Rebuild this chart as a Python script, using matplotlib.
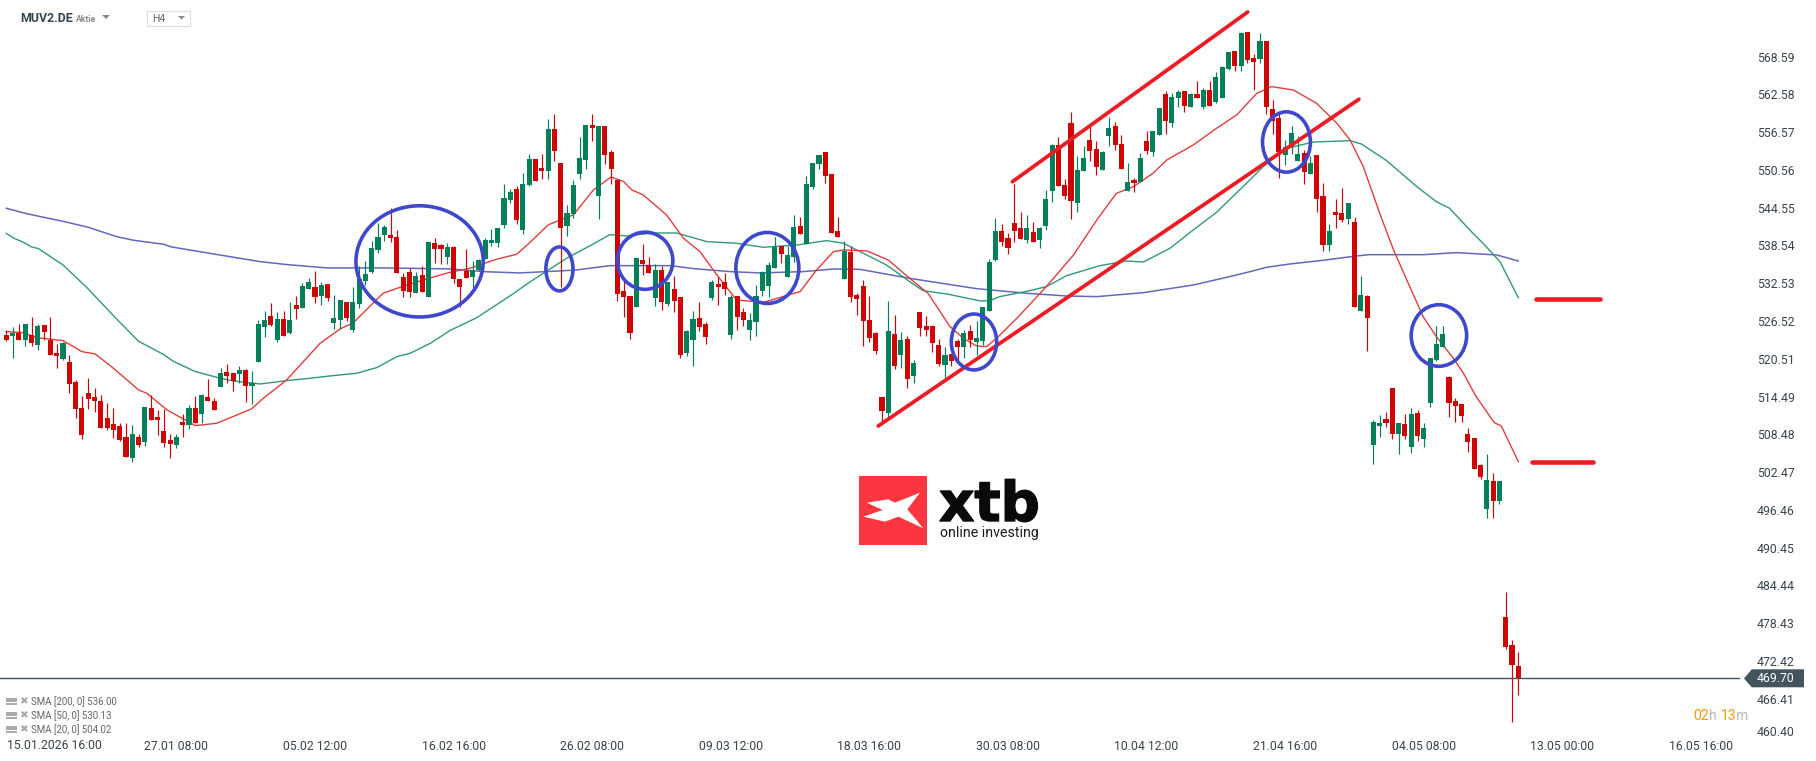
import matplotlib
matplotlib.use('Agg')
import matplotlib.pyplot as plt
import matplotlib.patheffects as pe
from matplotlib.patches import Ellipse, Polygon, Rectangle

plt.rcParams['font.family'] = ['Roboto', 'DejaVu Sans']

# H4 candles
opens = [524.29, 524.13, 524.61, 523.50, 524.24, 522.70, 525.88, 523.50, 521.43, 520.47,
         519.99, 516.81, 512.67, 515.06, 514.42, 513.79, 511.08, 510.13, 509.81, 508.06,
         504.72, 508.06, 507.26, 512.67, 511.24, 509.01, 507.58, 506.79, 510.45, 509.97,
         512.67, 511.72, 514.42, 513.79, 516.02, 518.40, 518.24, 518.08, 518.72, 516.17,
         519.99, 525.56, 527.32, 523.50, 526.84, 524.61, 529.07, 528.59, 531.61, 531.93,
         530.50, 532.41, 526.20, 526.68, 529.54, 525.09, 529.23, 532.89, 534.32, 537.82,
         540.21, 540.21, 539.89, 533.52, 534.32, 530.98, 533.84, 530.34, 538.93, 538.62,
         536.71,
         538.29, 533.20, 534.48, 533.52, 534.63, 536.39, 538.93, 538.93, 541.80, 545.77,
         547.53, 541.00, 548.16, 552.30, 550.87, 550.39, 557.07, 551.66, 541.64, 543.55,
         549.91, 552.14, 557.71, 546.41, 557.55, 553.41, 548.96, 531.29, 530.50, 528.75,
         536.23, 535.43, 530.18, 534.63, 529.22, 531.61, 530.34, 521.43, 523.49, 526.99,
         526.04, 530.18, 532.41, 532.72, 524.29, 530.50, 527.95, 525.09, 526.36, 531.29,
         532.09, 534.95, 538.45, 533.52, 536.70, 541.64, 538.77, 547.84, 551.50, 553.41,
         549.91, 540.84, 533.20, 537.50, 530.65, 532.09, 526.68, 524.61, 514.42, 511.87,
         524.45, 521.10, 523.65, 517.76, 527.95, 525.72, 525.72, 522.70, 519.51, 521.26,
         523.33, 522.38, 524.92, 523.17, 523.33, 528.11, 536.22, 540.84, 539.72, 542.11,
         541.31, 539.40, 540.68, 539.40, 541.63, 547.20, 554.52, 548.16, 558.02, 545.29,
         550.39, 555.32, 553.89, 550.54, 555.96, 557.55, 554.68, 547.20, 548.95, 548.63,
         555.16, 553.41, 556.11, 562.64, 558.02, 562.00, 563.12, 560.57, 562.64, 560.57,
         563.28, 561.37, 562.00, 566.62, 569.48, 567.10, 572.51, 568.37, 568.21, 571.07,
         560.25, 558.82, 552.93, 554.20, 551.98, 553.25, 549.91, 552.93, 546.41, 538.61,
         543.86, 543.70, 542.75, 542.27, 528.10, 530.49, 506.78, 509.80, 510.92, 515.85,
         508.53, 510.12, 506.46, 511.87, 507.73, 513.46, 520.31, 522.38, 517.60, 513.78,
         513.30, 508.53, 507.89, 503.60, 496.59, 501.05, 497.87, 479.41, 474.95, 471.61]
closes = [523.50, 524.61, 523.50, 526.04, 523.02, 525.72, 524.77, 521.11, 520.95, 523.02,
          516.49, 512.51, 508.38, 514.11, 513.79, 509.49, 509.49, 509.17, 507.58, 504.88,
          508.54, 506.79, 512.83, 510.76, 510.76, 507.10, 506.94, 508.06, 509.97, 512.67,
          510.29, 514.74, 513.79, 512.36, 518.24, 517.77, 516.97, 518.72, 516.17, 516.65,
          526.04, 526.68, 525.88, 526.84, 524.13, 526.68, 528.43, 532.09, 532.73, 530.34,
          532.25, 530.18, 527.00, 529.86, 527.00, 529.54, 533.20, 534.00, 538.14, 539.89,
          541.48, 539.73, 534.16, 531.29, 531.14, 533.68, 531.14, 539.09, 537.98, 537.98,
          538.30,
          533.20, 531.93, 533.36, 534.63, 536.23, 539.41, 539.41, 541.32, 546.09, 547.05,
          542.59, 548.32, 552.30, 548.80, 550.39, 557.07, 553.57, 541.32, 543.71, 548.16,
          552.46, 557.71, 557.23, 557.55, 552.94, 550.71, 530.81, 530.34, 524.61, 536.54,
          535.59, 534.16, 534.63, 529.54, 532.72, 529.70, 521.11, 524.93, 526.84, 525.56,
          523.97, 532.72, 531.93, 531.61, 530.34, 527.15, 526.68, 526.68, 530.50, 534.32,
          535.43, 538.29, 537.18, 537.02, 541.48, 540.36, 548.32, 551.66, 552.94, 549.59,
          540.52, 539.89, 537.66, 530.34, 530.02, 526.52, 523.81, 521.74, 512.19, 524.92,
          519.35, 523.49, 517.28, 519.83, 525.40, 525.08, 523.01, 519.67, 521.10, 520.15,
          522.38, 524.61, 523.49, 523.81, 528.74, 535.90, 540.84, 539.09, 538.13, 540.84,
          539.56, 541.31, 539.09, 541.31, 545.93, 554.52, 548.00, 546.41, 545.61, 550.54,
          552.45, 553.57, 551.02, 553.41, 557.23, 554.52, 550.70, 548.63, 548.48, 552.45,
          553.57, 556.75, 560.41, 558.34, 562.16, 562.96, 560.73, 562.64, 562.00, 563.28,
          560.73, 565.35, 566.94, 569.32, 567.10, 572.35, 568.05, 567.73, 571.07, 560.57,
          558.34, 553.41, 554.20, 556.43, 553.09, 550.23, 551.66, 545.93, 538.61, 540.84,
          543.38, 542.59, 545.29, 528.74, 530.65, 526.99, 510.44, 510.28, 510.28, 508.53,
          510.28, 508.21, 511.71, 508.21, 509.48, 520.63, 522.85, 524.44, 513.46, 512.99,
          511.39, 507.26, 502.96, 501.69, 501.21, 497.87, 501.05, 474.63, 471.77, 469.70]
highs = [525.09, 525.56, 526.04, 526.04, 527.16, 526.04, 525.88, 527.16, 522.86, 523.18,
         521.11, 517.13, 514.58, 517.45, 515.86, 514.74, 513.47, 512.67, 510.29, 510.29,
         509.97, 508.54, 512.83, 514.74, 512.36, 512.51, 508.54, 508.54, 511.72, 513.15,
         514.58, 514.90, 517.29, 514.26, 519.04, 519.68, 518.24, 519.36, 518.88, 518.56,
         526.68, 528.11, 529.38, 527.95, 528.11, 529.54, 530.50, 532.57, 533.36, 534.48,
         532.73, 532.41, 530.66, 529.86, 529.54, 531.93, 535.27, 536.07, 539.25, 542.12,
         541.80, 544.50, 541.00, 534.16, 534.95, 534.32, 535.27, 539.09, 539.73, 538.77,
         538.93,
         538.45, 533.20, 537.98, 536.07, 536.39, 539.73, 541.16, 541.32, 548.32, 547.53,
         548.00, 550.07, 553.10, 552.30, 553.10, 558.67, 559.46, 551.66, 544.98, 548.96,
         555.80, 557.71, 559.46, 557.55, 557.55, 553.73, 548.96, 532.88, 530.50, 536.54,
         538.77, 536.70, 535.59, 535.27, 532.72, 533.68, 530.34, 525.09, 528.11, 529.54,
         526.36, 533.04, 533.52, 534.16, 530.66, 530.50, 528.59, 527.79, 532.25, 534.48,
         535.91, 539.89, 538.45, 538.45, 543.39, 543.07, 549.59, 551.66, 552.94, 553.41,
         549.91, 543.07, 539.25, 538.45, 530.92, 533.04, 530.50, 524.77, 514.42, 529.70,
         527.47, 524.76, 524.13, 520.31, 527.95, 527.31, 525.88, 523.65, 522.38, 521.26,
         523.65, 525.08, 525.88, 526.51, 528.74, 536.38, 542.90, 541.95, 540.52, 548.32,
         543.86, 543.38, 542.27, 541.47, 547.36, 554.68, 555.80, 549.11, 559.78, 552.77,
         554.36, 557.71, 555.16, 553.57, 558.98, 558.18, 556.11, 551.66, 549.27, 553.25,
         556.75, 556.75, 560.41, 563.12, 562.80, 563.28, 563.12, 562.80, 564.71, 563.59,
         564.71, 566.14, 567.10, 569.32, 569.48, 572.51, 572.51, 569.01, 572.35, 571.07,
         561.68, 559.46, 555.32, 557.55, 555.96, 553.73, 552.77, 552.93, 548.47, 541.95,
         545.93, 547.68, 545.29, 543.06, 533.67, 530.65, 510.76, 511.55, 512.03, 515.85,
         510.28, 511.71, 512.67, 512.35, 510.28, 520.63, 525.72, 525.72, 517.76, 514.26,
         513.30, 509.48, 507.89, 503.76, 505.35, 502.32, 501.05, 483.39, 475.74, 473.84]
lows = [523.34, 520.68, 523.50, 522.54, 522.54, 521.90, 523.50, 521.11, 519.04, 520.31,
        515.06, 511.08, 507.74, 512.51, 512.04, 509.49, 509.17, 507.90, 507.42, 504.88,
        504.08, 506.47, 506.63, 510.76, 508.38, 506.47, 504.72, 506.31, 508.06, 509.33,
        510.29, 510.29, 513.79, 512.36, 516.02, 516.65, 515.38, 516.65, 513.63, 513.31,
        519.99, 523.97, 525.72, 523.18, 524.13, 524.45, 526.84, 528.59, 531.61, 529.38,
        529.07, 529.70, 525.25, 525.25, 526.52, 524.77, 528.59, 532.25, 534.16, 537.34,
        539.25, 539.09, 534.16, 530.34, 530.34, 530.98, 531.14, 530.34, 535.75, 535.59,
        535.59,
        532.57, 528.75, 533.36, 531.77, 534.48, 536.39, 538.45, 538.29, 541.32, 545.30,
        541.96, 540.36, 548.00, 548.80, 549.12, 549.12, 551.98, 531.93, 540.05, 542.91,
        549.12, 550.71, 555.16, 542.75, 551.50, 548.32, 529.70, 527.15, 523.65, 528.75,
        533.84, 534.16, 528.90, 528.27, 528.90, 527.95, 520.63, 520.95, 519.36, 524.93,
        522.86, 529.86, 529.06, 530.66, 523.65, 525.09, 525.72, 523.49, 524.13, 530.50,
        530.34, 534.95, 535.75, 533.52, 535.91, 540.36, 538.77, 547.53, 550.71, 548.48,
        540.52, 539.89, 533.20, 529.54, 527.47, 522.54, 523.18, 521.27, 510.12, 511.08,
        518.88, 519.03, 515.85, 516.65, 524.13, 524.13, 521.58, 519.35, 517.12, 519.35,
        519.99, 520.63, 522.38, 521.10, 522.70, 528.11, 536.06, 538.45, 537.18, 539.09,
        539.56, 538.93, 539.09, 538.13, 541.00, 545.45, 548.00, 545.93, 542.75, 543.86,
        550.39, 551.98, 549.75, 550.54, 554.36, 553.73, 550.70, 547.20, 547.04, 548.63,
        553.09, 552.77, 556.11, 556.27, 557.39, 560.57, 559.78, 560.57, 562.00, 560.25,
        560.73, 561.21, 562.00, 566.46, 566.30, 566.30, 567.57, 563.28, 567.57, 559.46,
        556.27, 549.27, 551.34, 553.09, 551.98, 548.32, 549.91, 543.86, 537.65, 537.65,
        541.31, 542.27, 541.95, 528.74, 528.10, 521.74, 503.76, 508.05, 509.64, 507.73,
        505.35, 507.73, 505.51, 507.42, 506.46, 512.83, 520.15, 522.38, 511.24, 510.44,
        510.44, 505.67, 502.96, 501.37, 495.16, 495.16, 497.39, 474.31, 462.70, 466.99]

# moving averages, readings at candle positions
sma200_x = [0, 3, 5.9, 9, 13, 17.5, 20.2, 25, 26.2, 32.9, 40.3, 44.5, 50.9, 59.8, 70.4,
            75.7, 81.5, 87.9, 90.5, 95.8, 105.4, 109.1, 114.9, 119.6, 126.5, 131.3, 135.5,
            143.4, 154, 162, 168.3, 173.1, 180.5, 188.4, 193.7, 197.4, 200, 203.7, 209,
            214.3, 216.4, 224.9, 230.2, 236.6, 240]
sma200_y = [544.45, 543.65, 543.02, 542.38, 541.43, 539.94, 539.36, 538.72, 538.30, 537.18,
            535.96, 535.49, 534.96, 534.96, 534.80, 534.37, 534.16, 534.48, 534.63, 535.32,
            535.32, 534.85, 534.37, 534.16, 534.37, 534.79, 534.73, 533.30, 531.66, 530.92,
            530.49, 530.39, 531.02, 532.24, 533.46, 534.36, 535.05, 535.58, 536.17, 536.86,
            537.07, 537.07, 537.39, 537.02, 536.06]
sma50_x = [0, 1.1, 2.7, 4, 5.1, 9, 12.8, 17.5, 21, 24.9, 26.5, 30, 33.4, 36, 40.3, 44.5, 47.7,
           51.9, 55.6, 58.8, 62, 64.1, 67.3, 70.4, 74.7, 80.5, 83.1, 89, 92.7, 95.8, 98.5,
           102.7, 106.4, 111.2, 115.9, 120.2, 125.5, 130.2, 132.9, 137.1, 139.7, 143.4, 145.5,
           149.3, 154.6, 156.1, 157.7, 162, 165.1, 168.3, 173.6, 177.8, 180.5, 184.7, 188.4,
           192.1, 196.3, 199.5, 203.2, 207.5, 213.3, 215.1, 219.1, 223.9, 227, 229.1, 232.3,
           234.4, 237.1, 240]
sma50_y = [540.47, 539.73, 539.04, 538.30, 538.03, 535.43, 531.82, 526.84, 523.28, 521.21,
           520.10, 518.46, 517.55, 516.97, 516.49, 517.02, 517.34, 517.82, 518.19, 519.09,
           520.84, 521.37, 522.96, 524.98, 527.05, 530.87, 532.72, 536.54, 538.51, 540.26,
           540.05, 540.52, 540.52, 539.14, 538.88, 538.24, 538.61, 539.30, 538.88, 536.75,
           535.43, 532.78, 531.34, 530.81, 529.70, 529.75, 530.39, 531.24, 531.98, 533.73,
           535.32, 536.06, 535.90, 538.08, 541.00, 543.81, 547.89, 551.07, 553.99, 555.00,
           555.21, 554.68, 552.03, 547.89, 545.50, 544.44, 540.99, 538.87, 535.95, 530.22]
sma20_x = [0, 2.7, 4.8, 9, 12, 14.1, 17, 21, 22.3, 25.5, 30, 33.4, 38.9, 40.8, 44.5, 49.8, 53,
           55.1, 59.8, 62.5, 66.7, 70.4, 73.6, 77.8, 81, 83.1, 86, 87.9, 90, 93.2, 96, 98, 99.3,
           101.1, 104.8, 107.5, 110.1, 112.8, 115.9, 120.2, 126, 128.6, 131.3, 132.9, 136.6,
           140, 143.4, 146.3, 149.8, 151.9, 154, 155.6, 157.2, 160.4, 164.1, 166, 169.4, 173.1,
           176.2, 178.9, 182, 184.2, 188.4, 192.1, 195.3, 198.5, 200.8, 204.3, 208, 211.2,
           213.3, 215.4, 218, 220.2, 222.3, 224.9, 227, 229.7, 231.3, 233.3, 236.2, 237.3, 240]
sma20_y = [524.82, 524.66, 523.87, 523.39, 521.64, 521.27, 518.99, 515.54, 515.01, 512.36,
           509.86, 510.23, 512.51, 514.21, 517.13, 522.96, 525.25, 526.25, 530.92, 531.88,
           533.20, 534.26, 534.90, 536.33, 537.13, 538.98, 541.80, 542.59, 543.39, 547.37,
           549.44, 548.69, 547.37, 546.57, 543.39, 539.67, 537.55, 533.84, 529.86, 529.49,
           531.19, 534.63, 537.55, 537.82, 537.66, 536.22, 533.30, 530.92, 525.61, 523.76,
           522.54, 522.43, 523.76, 526.94, 530.92, 533.04, 537.02, 542.59, 546.83, 547.89,
           550.01, 552.14, 554.52, 557.18, 559.30, 562.75, 563.81, 563.28, 561.15, 557.97,
           555.32, 551.07, 543.65, 537.81, 533.04, 527.20, 524.02, 520.57, 518.18, 514.47,
           510.33, 509.80, 504.13]

# hand drawn markups on the chart
circle_x = [65.6, 87.8, 101.4, 120.8, 153.6, 203.2, 227.4]
circle_y = [536.0, 534.8, 536.1, 534.95, 523.17, 555.0, 524.2]
circle_w = [20.2, 4.3, 8.8, 10.0, 7.2, 7.6, 8.8]
circle_h = [17.7, 7.0, 9.1, 11.3, 8.9, 9.6, 9.8]
trend_x = [[159.7, 197.05], [138.4, 214.7]]
trend_y = [[548.68, 575.69], [509.80, 561.80]]
level_x = [[242.8, 253.0], [242.1, 251.8]]
level_y = [529.97, 504.02]

last_price = 469.70
price_ticks = [568.59, 562.58, 556.57, 550.56, 544.55, 538.54, 532.53, 526.52, 520.51, 514.49,
               508.48, 502.47, 496.46, 490.45, 484.44, 478.43, 472.42, 466.41]
date_ticks = [27, 49, 71, 93, 115, 137, 159, 181, 203, 225, 247, 269]
date_labels = ['27.01 08:00', '05.02 12:00', '16.02 16:00', '26.02 08:00', '09.03 12:00',
               '18.03 16:00', '30.03 08:00', '10.04 12:00', '21.04 16:00', '04.05 08:00',
               '13.05 00:00', '16.05 16:00']
sma_labels = ['SMA [200, 0] 536.00', 'SMA [50, 0] 530.13', 'SMA [20, 0] 504.02']

W, H = 1816, 761
GREEN = '#04805a'
RED = '#d00606'
TEXT = '#38444d'
TICK_SIZE = 8.8


def fx(x):
    return x / W


def fy(y):
    return 1 - y / H


def poly(points, color):
    pts = [(fx(x), fy(y)) for x, y in points]
    fig.add_artist(Polygon(pts, closed=True, fc=color, ec='none', transform=fig.transFigure))


fig = plt.figure(figsize=(W / 100, H / 100), dpi=100, facecolor='white')
ax = fig.add_axes([0, 1 - 737 / H, 1740 / W, 737 / H])
ax.set_xlim(-1, 275.19)
ax.set_ylim(460.30, 577.60)

# moving averages under the candles
ax.plot(sma200_x, sma200_y, color='#6468bb', lw=1.1, zorder=1)
ax.plot(sma50_x, sma50_y, color='#2f9a78', lw=1.0, zorder=1)
ax.plot(sma20_x, sma20_y, color='#e23d3d', lw=1.0, zorder=1)

# candles
xs = list(range(len(opens)))
colors = [GREEN if c >= o else RED for o, c in zip(opens, closes)]
ax.vlines(xs, lows, highs, colors=colors, lw=0.85, zorder=2)
ax.bar(xs, [abs(c - o) for o, c in zip(opens, closes)],
       bottom=[min(o, c) for o, c in zip(opens, closes)],
       width=0.8, color=colors, linewidth=0, zorder=2)

ax.axhline(last_price, color='#44545f', lw=1.0, zorder=3)

# markups
for cx, cy, cw, ch in zip(circle_x, circle_y, circle_w, circle_h):
    ax.add_patch(Ellipse((cx, cy), cw, ch, fc='none', ec='#3f48cc', lw=2.6, zorder=5))
for tx, ty in zip(trend_x, trend_y):
    ax.plot(tx, ty, color='#ed1c24', lw=2.7, solid_capstyle='round', zorder=4)
for lx, ly in zip(level_x, level_y):
    ax.plot(lx, [ly, ly], color='#ed1c24', lw=3.3, solid_capstyle='round', zorder=4)

# axes
for s in ax.spines.values():
    s.set_visible(False)
ax.yaxis.tick_right()
ax.set_yticks(price_ticks)
ax.set_yticklabels(['%.2f' % p for p in price_ticks])
ax.set_xticks(date_ticks)
ax.set_xticklabels(date_labels)
ax.tick_params(axis='y', length=0, pad=12, labelsize=TICK_SIZE, labelcolor=TEXT)
ax.tick_params(axis='x', length=0, pad=2, labelsize=TICK_SIZE, labelcolor=TEXT)

fig.text(fx(1756.7), fy(732), '460.40', fontsize=TICK_SIZE, color=TEXT, va='center')
fig.text(fx(7), fy(745.5), '15.01.2026 16:00', fontsize=TICK_SIZE, color=TEXT, va='center')

# last price tag
poly([(1744, 678.5), (1751.7, 669.3), (1804, 669.3), (1804, 687.3), (1751.7, 687.3)], '#44545f')
fig.text(fx(1756.7), fy(678.7), '%.2f' % last_price, fontsize=TICK_SIZE, color='white', va='center')

# countdown
for x, s, c in [(1693, '02', '#ff9800'), (1709, 'h', '#b9b9b9'),
                (1720.7, '13', '#ff9800'), (1735.7, 'm', '#b9b9b9')]:
    fig.text(fx(x), fy(716), s, fontsize=10, color=c, va='center')

# header
fig.text(fx(20), fy(19), 'MUV2.DE', fontsize=8.9, fontweight='bold', color='#37474f', va='center')
fig.text(fx(76), fy(19.5), 'Aktie', fontsize=6.2, fontweight='bold', color='#8a8a8a', va='center')
poly([(102, 15), (110, 15), (106, 19)], '#8a8a8a')
fig.add_artist(Rectangle((fx(146.5), fy(25.5)), 43 / W, 15 / H, fc='white', ec='#dddddd', lw=0.8,
                         transform=fig.transFigure))
fig.text(fx(152), fy(19.5), 'H4', fontsize=7.5, color='#666666', va='center')
poly([(178, 16), (185, 16), (181.5, 19.5)], '#8a8a8a')

# indicator legend
for y, s in zip([701, 715, 729], sma_labels):
    fig.add_artist(Rectangle((fx(6), fy(y + 3.5)), 11 / W, 1.5 / H, fc='#aaaaaa', ec='none',
                             transform=fig.transFigure))
    fig.add_artist(Rectangle((fx(6), fy(y + 0.5)), 11 / W, 4 / H, fc='#aaaaaa', ec='none',
                             transform=fig.transFigure))
    fig.text(fx(19.5), fy(y), '\u2716', fontsize=7.5, color='#a8a8a8', va='center',
             family='DejaVu Sans')
    fig.text(fx(31), fy(y + 0.5), s, fontsize=6.9, color='#666666', va='center')

# logo
fig.add_artist(Rectangle((fx(859), fy(544.7)), 68 / W, 68.7 / H, fc='#fb3640', ec='none',
                         transform=fig.transFigure))
logo_x = [(110, 128), (175, 118), (195, 128), (270, 98), (232, 148), (280, 205), (205, 170),
          (165, 185), (100, 170), (158, 150)]
poly([(830 + a / 3, 460 + b / 3) for a, b in logo_x], 'white')
fig.text(fx(939), fy(521), 'xtb', fontsize=39.5, fontweight='bold', family='DejaVu Sans',
         color='#0a0a0a', va='baseline',
         path_effects=[pe.withStroke(linewidth=1, foreground='#0a0a0a')])
fig.text(fx(940), fy(537), 'online investing', fontsize=10.2, color='#1a1a1a', va='baseline')

fig.savefig('out.png', dpi=100)
